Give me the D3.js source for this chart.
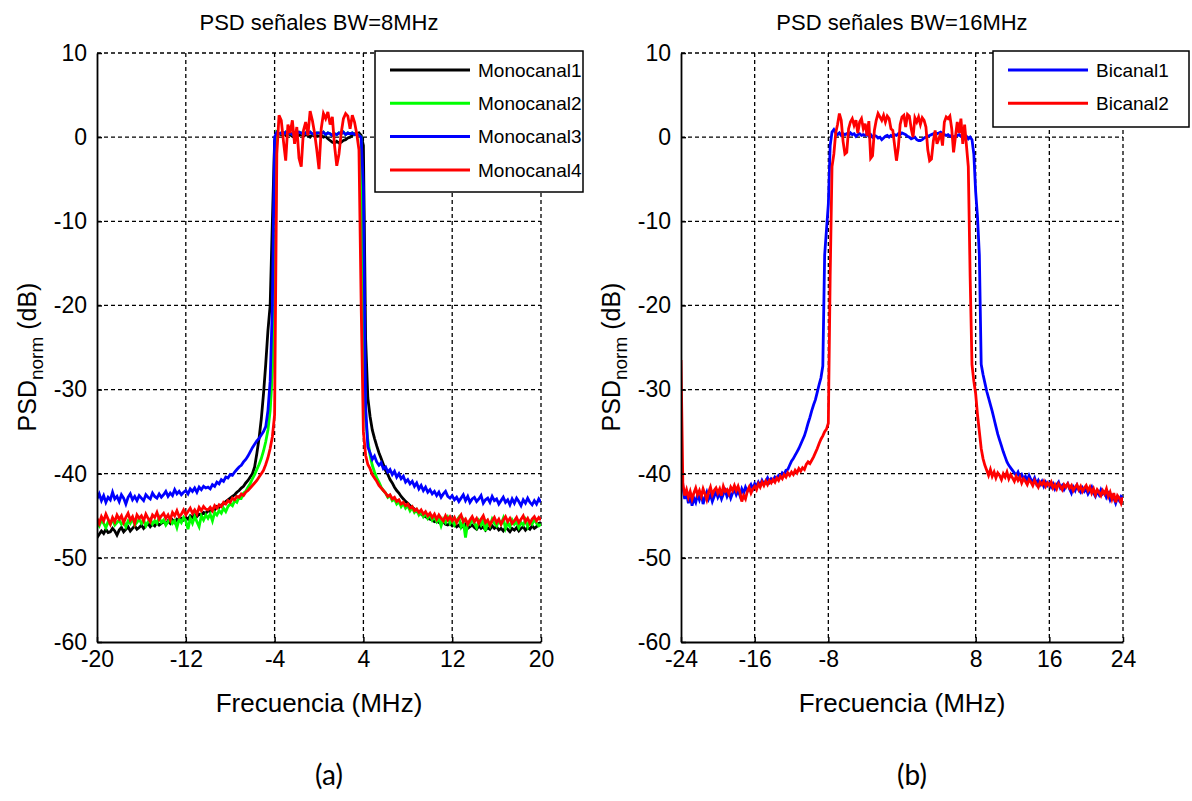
<!DOCTYPE html>
<html>
<head>
<meta charset="utf-8">
<script src="https://cdn.jsdelivr.net/npm/d3@7"></script>
<style>
  body { margin: 0; background: #fff; }
  text { font-family: "Liberation Sans", Arial, sans-serif; fill: #000; }
</style>
</head>
<body>
<script>
// ---- datos ----
// rejilla de frecuencia (MHz), paso 0.2
const freqStepMHz = 0.2;
const yTicks = [-60, -50, -40, -30, -20, -10, 0, 10];
const ticksA = [-20, -12, -4, 4, 12, 20];
const ticksB = [-24, -16, -8, 8, 16, 24];
const namesA = ['Monocanal1', 'Monocanal2', 'Monocanal3', 'Monocanal4'];
const namesB = ['Bicanal1', 'Bicanal2'];

// PSD normalizada (dB), -20..20 MHz
const monocanal1 = [
  -47.6, -47.2, -46.8, -47.1, -46.6, -47.0, -46.9, -46.5, -46.8, -47.3,
  -46.7, -46.4, -46.9, -46.6, -46.3, -46.8, -46.5, -46.2, -46.6, -46.4,
  -46.1, -46.5, -46.2, -45.9, -46.3, -46.0, -46.2, -45.8, -46.1, -45.9,
  -45.7, -46.0, -45.6, -45.9, -45.5, -45.8, -45.4, -45.6, -45.3, -45.5,
  -45.2, -45.4, -45.0, -45.2, -44.9, -45.1, -44.8, -44.9, -44.6, -44.7,
  -44.4, -44.5, -44.2, -44.3, -43.9, -44.0, -43.7, -43.6, -43.3, -43.1,
  -42.9, -42.7, -42.5, -42.2, -42.0, -41.7, -41.5, -41.1, -40.8, -40.4,
  -40.0, -39.2, -37.6, -35.8, -33.5, -30.5, -27.0, -23.0, -20.0, -10.0,
  -0.5, 0.2, 0.4, 0.3, 0.5, 0.2, 0.4, 0.3, 0.1, 0.4,
  0.3, 0.2, 0.4, 0.1, 0.3, 0.2, 0.0, 0.3, 0.1, 0.2,
  0.1, 0.2, 0.0, 0.1, -0.2, -0.4, -0.6, -0.7, -0.5, -0.7,
  -0.6, -0.4, -0.3, -0.1, 0.0, 0.2, 0.4, 0.3, 0.5, 0.2,
  -1.0, -24.0, -31.0, -33.2, -34.8, -35.8, -36.7, -37.5, -38.2, -38.9,
  -39.6, -40.1, -40.7, -41.1, -41.6, -42.0, -42.3, -42.7, -43.0, -43.3,
  -43.5, -43.8, -44.0, -44.2, -44.5, -44.6, -44.8, -45.0, -45.1, -45.3,
  -45.4, -45.5, -45.7, -45.6, -45.8, -45.9, -45.7, -46.0, -46.1, -45.9,
  -46.2, -46.0, -46.3, -46.1, -46.4, -46.2, -46.0, -46.5, -46.3, -46.1,
  -46.4, -46.6, -46.2, -46.5, -46.3, -46.7, -46.4, -46.6, -46.2, -46.5,
  -46.3, -46.7, -46.5, -46.8, -46.4, -46.6, -46.9, -46.5, -46.7, -46.4,
  -46.8, -46.5, -46.3, -46.7, -46.4, -46.6, -46.2, -46.5, -46.3, -45.9,
  -45.8
];
const monocanal2 = [
  -45.8, -46.2, -45.5, -45.9, -46.4, -45.7, -46.0, -45.4, -46.1, -45.8,
  -45.5, -46.0, -45.7, -46.3, -45.6, -45.9, -45.3, -46.1, -45.8, -45.4,
  -45.9, -45.5, -46.2, -45.7, -45.4, -46.0, -45.6, -45.9, -45.2, -45.8,
  -45.5, -46.1, -45.7, -45.3, -45.9, -45.6, -46.4, -45.4, -45.8, -45.2,
  -45.6, -46.6, -45.3, -45.9, -45.1, -45.7, -46.3, -45.0, -45.5, -44.9,
  -45.3, -44.8, -45.6, -44.6, -44.9, -44.4, -44.7, -44.1, -44.5, -43.9,
  -43.6, -43.8, -43.2, -43.4, -42.8, -42.9, -42.3, -42.1, -41.6, -41.2,
  -40.6, -40.1, -39.5, -38.9, -38.2, -37.3, -36.2, -34.8, -32.5, -28.0,
  -20.0, 0.6, 0.4, 0.5, 0.3, 0.6, 0.4, 0.5, 0.3, 0.5,
  0.4, 0.6, 0.5, 0.3, 0.5, 0.4, 0.6, 0.4, 0.3, 0.5,
  0.5, 0.4, 0.6, 0.3, 0.5, 0.4, 0.2, 0.4, 0.3, 0.5,
  0.4, 0.6, 0.3, 0.5, 0.4, 0.5, 0.3, 0.4, 0.2, 0.0,
  -26.0, -33.5, -36.0, -37.8, -39.0, -39.8, -40.5, -41.0, -41.6, -42.0,
  -42.3, -42.8, -42.6, -43.2, -43.0, -43.6, -43.3, -43.9, -43.5, -44.1,
  -43.8, -44.4, -44.0, -44.6, -44.3, -44.9, -44.5, -45.1, -44.7, -45.3,
  -44.9, -45.5, -45.1, -45.7, -45.3, -46.2, -45.4, -45.8, -45.2, -45.9,
  -45.5, -46.1, -45.6, -45.2, -46.3, -45.7, -47.6, -45.8, -46.0, -45.4,
  -45.9, -46.4, -45.6, -46.1, -45.5, -46.8, -45.7, -46.2, -45.4, -45.9,
  -46.2, -45.6, -46.0, -45.3, -46.5, -45.8, -46.3, -45.5, -46.0, -45.7,
  -46.4, -45.8, -46.1, -45.5, -46.3, -45.7, -46.0, -45.4, -45.9, -46.2,
  -46.0
];
const monocanal3 = [
  -43.0, -42.4, -43.2, -42.6, -43.4, -42.8, -43.1, -42.2, -43.0, -42.7,
  -43.3, -42.5, -42.9, -43.6, -42.8, -42.4, -43.1, -42.7, -43.2, -42.6,
  -42.9, -43.2, -42.5, -42.8, -43.0, -42.3, -42.7, -42.9, -42.4, -42.8,
  -42.5, -42.1, -42.7, -42.3, -42.6, -41.9, -42.4, -42.1, -42.5, -42.2,
  -42.0, -42.4, -41.8, -42.1, -41.7, -42.2, -41.6, -41.9, -41.5, -41.7,
  -41.6, -41.8, -41.3, -41.5, -41.0, -41.2, -40.7, -40.9, -40.4, -40.5,
  -40.1, -40.2, -39.8, -39.5, -39.2, -39.0, -38.6, -38.3, -37.9, -37.4,
  -36.9, -36.5, -36.1, -35.8, -35.4, -35.0, -34.4, -32.5, -29.0, -20.0,
  0.0, 0.6, 0.4, 0.5, 0.3, 0.6, 0.4, 0.5, 0.3, 0.5,
  0.4, 0.6, 0.5, 0.3, 0.5, 0.4, 0.6, 0.4, 0.3, 0.5,
  0.5, 0.4, 0.6, 0.3, 0.5, 0.4, 0.2, 0.4, 0.3, 0.5,
  0.4, 0.6, 0.3, 0.5, 0.4, 0.5, 0.3, 0.4, 0.2, 0.0,
  -6.0, -32.0, -36.8, -37.5, -38.3, -37.9, -38.6, -39.0, -38.7, -39.4,
  -39.2, -39.8, -39.5, -40.1, -39.7, -40.4, -40.0, -40.6, -40.3, -41.0,
  -40.7, -41.2, -40.9, -41.5, -41.1, -41.8, -41.4, -42.0, -41.6, -42.2,
  -41.9, -42.4, -42.1, -42.6, -42.2, -42.8, -42.4, -42.1, -42.7, -42.9,
  -42.6, -43.1, -42.8, -43.3, -42.9, -42.5, -43.2, -42.7, -43.4, -43.0,
  -42.8, -43.3, -43.0, -42.6, -43.5, -43.1, -42.9, -43.4, -42.7, -43.2,
  -43.0, -43.6, -43.2, -42.8, -43.4, -43.1, -43.7, -43.0, -43.5, -42.9,
  -43.3, -43.8, -43.1, -43.5, -42.9, -43.4, -43.7, -43.2, -43.6, -43.0,
  -43.4
];
const monocanal4 = [
  -45.3, -45.9, -45.1, -45.6, -44.8, -45.4, -46.0, -45.2, -45.7, -44.9,
  -45.4, -45.0, -45.8, -45.2, -44.7, -45.5, -45.1, -45.9, -44.9, -45.3,
  -45.0, -45.6, -44.8, -45.3, -45.7, -44.9, -45.2, -44.6, -45.4, -45.0,
  -44.7, -45.3, -44.9, -45.5, -44.6, -45.0, -44.4, -45.1, -44.8, -44.3,
  -44.9, -44.5, -44.1, -44.7, -44.3, -44.8, -44.0, -44.4, -43.9, -44.2,
  -44.3, -44.0, -44.4, -43.8, -44.1, -43.7, -43.9, -43.4, -43.6, -43.2,
  -43.4, -42.9, -43.1, -42.7, -42.8, -42.4, -42.6, -42.2, -42.0, -41.7,
  -41.4, -41.1, -40.8, -40.4, -40.0, -39.6, -38.9, -38.1, -37.0, -35.6,
  -33.0, -2.0, 2.6, 2.0, -0.5, -2.8, 1.5, 0.5, 2.0, -0.8,
  1.2, -2.5, -3.5, 0.8, 1.8, 0.2, 3.1, 2.0, 0.5, -1.5,
  -3.8, 1.0, 2.8, 2.2, 3.0, 1.5, 2.4, -1.0, -3.4, -2.0,
  0.5, 2.2, 2.8, 2.5, 1.0, 2.6, 1.8, 0.4, -1.5, -20.0,
  -35.0, -37.8, -38.9, -39.4, -40.1, -40.5, -40.9, -41.4, -41.7, -42.0,
  -42.3, -42.7, -42.5, -43.0, -42.8, -43.3, -43.1, -43.6, -43.4, -43.8,
  -43.6, -44.1, -43.9, -44.4, -44.2, -44.6, -44.3, -44.8, -44.5, -45.0,
  -44.7, -45.2, -44.8, -45.4, -44.9, -45.3, -45.6, -45.0, -45.5, -45.1,
  -45.6, -45.2, -45.8, -45.3, -44.9, -45.7, -45.4, -46.0, -45.5, -45.1,
  -45.7, -45.3, -45.9, -45.4, -45.0, -45.8, -45.5, -46.1, -45.6, -45.2,
  -45.8, -45.4, -46.0, -45.5, -45.1, -45.7, -45.3, -45.9, -45.6, -45.2,
  -45.8, -45.4, -45.0, -45.7, -45.3, -45.9, -45.4, -45.1, -45.6, -45.2,
  -45.5
];

// PSD normalizada (dB), -24..24 MHz
const bicanal1 = [
  -37.5, -41.5, -43.0, -42.2, -43.5, -42.6, -43.8, -42.9, -43.4, -42.5,
  -43.1, -42.4, -43.6, -42.8, -42.2, -43.0, -42.5, -43.3, -42.7, -42.1,
  -42.8, -42.3, -43.0, -42.4, -42.0, -42.7, -42.2, -42.9, -42.3, -41.9,
  -42.5, -42.0, -42.6, -41.8, -42.3, -41.6, -42.1, -41.7, -41.3, -41.8,
  -41.2, -41.5, -41.0, -41.4, -40.8, -41.2, -40.9, -40.5, -41.0, -40.6,
  -40.8, -40.4, -40.6, -40.2, -40.4, -39.9, -40.1, -39.6, -39.5, -39.0,
  -38.5, -38.2, -37.8, -37.4, -37.0, -36.5, -36.0, -35.5, -34.8, -34.0,
  -33.3, -32.5, -31.8, -31.2, -30.3, -29.4, -28.6, -27.2, -14.0, -11.0,
  -8.0, -1.0, 0.6, 0.9, 0.5, 0.3, 0.5, 0.2, 0.4, 0.3,
  0.4, 0.2, 0.5, 0.3, 0.4, 0.1, 0.3, 0.4, 0.2, 0.3,
  0.2, 0.4, 0.1, 0.3, 0.0, 0.2, 0.1, -0.1, 0.0, -0.3,
  -0.1, 0.1, 0.2, 0.0, 0.2, 0.1, 0.3, 0.2, 0.4, 0.3,
  0.5, 0.4, 0.3, 0.1, 0.0, -0.2, -0.1, 0.0, -0.3, -0.4,
  -0.4, -0.3, -0.1, 0.0, 0.1, 0.2, 0.3, 0.4, 0.5, 0.4,
  0.5, 0.6, 0.4, 0.3, 0.2, 0.3, 0.1, 0.2, 0.0, 0.1,
  0.2, 0.3, 0.1, 0.2, 0.0, 0.1, -0.2, 0.0, -0.3, -2.0,
  -6.5, -9.5, -14.0, -27.0, -28.2, -29.2, -30.2, -31.0, -31.8, -32.6,
  -33.5, -34.4, -35.3, -36.0, -36.7, -37.4, -38.0, -38.6, -39.0, -39.3,
  -39.6, -39.9, -40.2, -39.8, -40.4, -40.1, -40.6, -40.3, -40.8, -40.2,
  -40.7, -41.0, -40.5, -41.2, -40.8, -41.3, -40.9, -41.5, -41.0, -41.4,
  -41.1, -41.6, -41.2, -41.8, -41.3, -41.0, -41.7, -41.4, -41.9, -41.5,
  -41.2, -41.8, -42.3, -41.6, -42.0, -41.4, -41.9, -42.2, -41.7, -42.1,
  -41.8, -42.4, -42.0, -41.6, -42.3, -42.7, -42.1, -42.5, -41.9, -42.4,
  -42.2, -42.8, -42.4, -43.1, -42.6, -42.9, -43.5, -42.8, -43.2, -42.7,
  -42.9
];
const bicanal2 = [
  -26.5, -41.2, -42.6, -41.9, -42.8, -42.1, -43.0, -42.3, -41.7, -42.5,
  -42.0, -42.7, -41.8, -42.4, -43.1, -42.2, -41.6, -42.5, -42.0, -41.7,
  -42.3, -41.8, -42.6, -41.5, -42.1, -41.9, -42.4, -41.6, -42.0, -41.4,
  -42.0, -41.5, -42.2, -43.3, -42.6, -43.0, -42.1, -41.6, -42.3, -41.8,
  -41.5, -41.9, -41.2, -41.6, -41.0, -41.4, -40.9, -41.3, -40.8, -41.1,
  -40.7, -41.0, -40.5, -40.8, -40.3, -40.6, -40.1, -40.4, -39.9, -40.2,
  -39.8, -40.1, -39.6, -39.9, -39.4, -39.7, -39.3, -39.5, -38.9, -38.6,
  -38.8, -38.4, -38.0, -37.5, -37.0, -36.4, -35.9, -35.5, -35.0, -34.7,
  -34.0, -16.5, -3.5, -2.0, 0.5, 1.5, 2.8, 2.0, -0.5, -2.0,
  -1.8, 1.0, 1.8, 2.2, 1.4, 2.0, 0.5, 1.8, 2.2, 1.0,
  1.6, 0.2, 1.9, -2.5, -2.2, 0.8, 2.0, 2.8, 2.4, 2.0,
  2.6, 1.8, 2.5, 2.2, 1.0, 0.8, -1.0, -2.8, -1.2, 1.5,
  2.4, 2.6, 1.2, 2.7, 2.5, 1.0, 0.0, 2.3, 1.8, 2.4,
  1.5, 2.3, 2.0, 1.2, -1.5, -2.8, -2.6, -0.5, 0.8, -0.8,
  -0.2, 0.5, -1.0, 1.8, 2.4, 2.2, 2.5, 1.0, -1.8, 0.0,
  1.8, 0.5, 2.2, -0.8, 1.5, -1.0, -3.5, -16.6, -27.0, -29.0,
  -30.5, -33.0, -35.0, -37.0, -38.2, -39.0, -39.6, -40.2, -39.5, -40.3,
  -39.8, -40.5, -39.9, -40.2, -40.7, -40.0, -40.4, -39.8, -40.6, -40.1,
  -40.5, -40.9, -40.3, -40.8, -40.4, -41.1, -40.6, -40.9, -41.3, -40.7,
  -41.0, -41.4, -40.8, -41.2, -41.6, -41.0, -41.3, -40.9, -41.5, -41.1,
  -41.4, -41.0, -41.7, -41.3, -41.8, -41.2, -41.5, -41.9, -41.3, -41.6,
  -41.2, -41.7, -41.4, -42.0, -41.6, -41.3, -41.9, -41.5, -42.1, -41.7,
  -41.4, -42.0, -41.6, -42.3, -41.8, -42.5, -41.9, -42.2, -42.6, -42.0,
  -42.4, -41.8, -42.7, -42.2, -43.0, -42.3, -43.4, -42.6, -42.9, -43.5,
  -42.8
];

const colorsA = ['#000000', '#00ff00', '#0000ff', '#ff0000'];
const colorsB = ['#0000ff', '#ff0000'];

// ---- layout ----
const width = 1192;
const height = 801;
const plotTop = 53;
const plotBottom = 642;

const svg = d3.select('body')
  .append('svg')
  .attr('width', width)
  .attr('height', height);

const y = d3.scaleLinear().domain([-60, 10]).range([plotBottom, plotTop]);

const panels = [
  {
    id: 'a', left: 97, right: 541, domain: [-20, 20], ticks: ticksA,
    title: 'PSD señales BW=8MHz', caption: '(a)', ylabelX: 36,
    series: [monocanal1, monocanal2, monocanal3, monocanal4],
    names: namesA, colors: colorsA,
    legend: { x: 375, y: 51, w: 208, h: 141 }
  },
  {
    id: 'b', left: 681, right: 1123, domain: [-24, 24], ticks: ticksB,
    title: 'PSD señales BW=16MHz', caption: '(b)', ylabelX: 620,
    series: [bicanal1, bicanal2],
    names: namesB, colors: colorsB,
    legend: { x: 993, y: 51, w: 196, h: 76 }
  }
];

panels.forEach(p => {
  const x = d3.scaleLinear().domain(p.domain).range([p.left, p.right]);
  const g = svg.append('g');

  // rejilla
  g.append('g').selectAll('line')
    .data(p.ticks.slice(1))
    .enter().append('line')
    .attr('x1', d => x(d)).attr('x2', d => x(d))
    .attr('y1', y(10)).attr('y2', y(-60))
    .attr('stroke', '#000').attr('stroke-width', 1.3)
    .attr('stroke-dasharray', '4,3');
  g.append('g').selectAll('line')
    .data(yTicks.slice(1))
    .enter().append('line')
    .attr('x1', p.left).attr('x2', p.right)
    .attr('y1', d => y(d)).attr('y2', d => y(d))
    .attr('stroke', '#000').attr('stroke-width', 1.3)
    .attr('stroke-dasharray', '4,3');

  // curvas
  g.append('clipPath').attr('id', 'clip-' + p.id)
    .append('rect')
    .attr('x', p.left).attr('y', plotTop)
    .attr('width', p.right - p.left).attr('height', plotBottom - plotTop);

  const line = d3.line()
    .x((d, i) => x(p.domain[0] + i * freqStepMHz))
    .y(d => y(d));

  g.append('g').attr('clip-path', 'url(#clip-' + p.id + ')')
    .selectAll('path')
    .data(p.series)
    .enter().append('path')
    .attr('d', d => line(d))
    .attr('fill', 'none')
    .attr('stroke', (d, i) => p.colors[i])
    .attr('stroke-width', 2.8)
    .attr('stroke-linejoin', 'miter');

  // ejes
  const fmt = d => String(d);
  const xAxis = d3.axisBottom(x).tickValues(p.ticks).tickFormat(fmt)
    .tickSizeInner(-5).tickSizeOuter(0).tickPadding(9);
  const yAxis = d3.axisLeft(y).tickValues(yTicks).tickFormat(fmt)
    .tickSizeInner(-5).tickSizeOuter(0).tickPadding(10);

  const gx = g.append('g')
    .attr('transform', 'translate(0,' + plotBottom + ')')
    .call(xAxis);
  const gy = g.append('g')
    .attr('transform', 'translate(' + p.left + ',0)')
    .call(yAxis);
  [gx, gy].forEach(a => {
    a.select('.domain').attr('stroke', '#000').attr('stroke-width', 1.8);
    a.selectAll('.tick line').attr('stroke', '#000').attr('stroke-width', 1.5);
    a.selectAll('.tick text')
      .style('font-family', '"Liberation Sans", Arial, sans-serif')
      .style('font-size', '23px')
      .attr('fill', '#000');
  });

  const cx = (p.left + p.right) / 2;

  // títulos
  g.append('text')
    .attr('x', cx).attr('y', 30)
    .attr('text-anchor', 'middle')
    .style('font-size', '22px')
    .text(p.title);

  g.append('text')
    .attr('x', cx).attr('y', 712)
    .attr('text-anchor', 'middle')
    .style('font-size', '26px')
    .text('Frecuencia (MHz)');

  const yl = g.append('text')
    .attr('transform', 'translate(' + p.ylabelX + ',357) rotate(-90)')
    .attr('text-anchor', 'middle')
    .style('font-size', '25px');
  yl.append('tspan').text('PSD');
  yl.append('tspan').attr('dy', 7).style('font-size', '19px').text('norm');
  yl.append('tspan').attr('dy', -7).text(' (dB)');

  g.append('text')
    .attr('x', cx + 10).attr('y', 785)
    .attr('text-anchor', 'middle')
    .style('font-family', 'Lato, "Open Sans", sans-serif')
    .style('font-size', '28px')
    .text(p.caption);

  // leyenda
  const L = p.legend;
  const lg = g.append('g');
  lg.append('rect')
    .attr('x', L.x).attr('y', L.y).attr('width', L.w).attr('height', L.h)
    .attr('fill', '#fff').attr('stroke', '#000').attr('stroke-width', 1.5);
  const items = lg.selectAll('g.item')
    .data(p.names)
    .enter().append('g')
    .attr('class', 'item')
    .attr('transform', (d, i) => 'translate(' + (L.x + 15) + ',' + (L.y + 19 + i * 33.3) + ')');
  items.append('line')
    .attr('x1', 0).attr('x2', 80)
    .attr('stroke', (d, i) => p.colors[i])
    .attr('stroke-width', 3);
  items.append('text')
    .attr('x', 88).attr('dy', '0.35em')
    .style('font-size', '19px')
    .text(d => d);
});
</script>
</body>
</html>
